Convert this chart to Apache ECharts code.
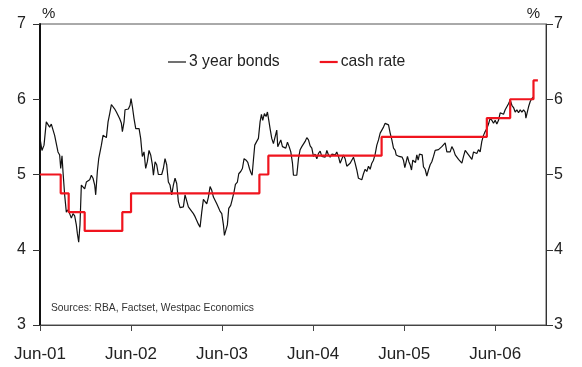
<!DOCTYPE html>
<html>
<head>
<meta charset="utf-8">
<script src="https://cdn.jsdelivr.net/npm/echarts@6/dist/echarts.min.js"></script>
<style>
  html, body { margin: 0; padding: 0; background: #fff; }
  #chart { width: 582px; height: 367px; }
</style>
</head>
<body>
<div id="chart"></div>
<script>
// x values are months elapsed since June 2001
var bondMonths = [
  0,0.26,0.53,0.83,1.06,1.27,1.49,1.71,1.93,2.15,2.37,2.59,2.73,2.90,3.03,3.25,3.47,3.69,3.91,4.13,
  4.35,4.57,4.79,4.92,5.10,5.27,5.45,5.67,5.89,6.11,6.33,6.55,6.77,6.99,7.21,7.34,7.56,7.74,7.91,8.09,
  8.31,8.53,8.75,8.97,9.19,9.41,9.63,9.85,10.07,10.29,10.51,10.73,10.86,11.08,
  11.21,11.43,11.65,11.87,12.00,12.18,12.40,12.62,12.84,13.06,13.27,13.49,13.71,13.93,14.15,14.37,14.59,14.81,14.95,
  15.17,15.38,15.60,15.82,16.04,16.26,16.48,16.70,16.92,17.14,17.36,17.58,17.80,18.02,18.24,18.46,18.68,18.90,
  19.12,19.34,19.56,19.78,20.00,20.22,20.44,20.66,20.88,21.10,21.32,21.54,21.76,21.98,22.20,
  22.42,22.64,22.86,23.08,23.30,23.52,23.74,23.96,24.18,24.31,24.53,24.70,24.88,25.14,25.32,25.58,25.76,26.02,26.20,
  26.46,26.68,26.90,27.17,27.39,27.61,27.78,27.96,28.13,28.31,28.57,28.79,29.01,29.19,29.36,29.58,29.80,29.98,30.16,30.33,
  30.55,30.77,30.99,31.21,31.34,31.52,31.74,31.96,32.18,32.40,32.62,32.84,33.06,33.28,33.41,
  33.63,33.85,34.07,34.29,34.51,34.73,34.95,35.17,35.39,35.61,35.83,36.05,36.27,36.49,36.71,36.93,37.15,37.37,37.59,37.81,
  38.03,38.25,38.47,38.69,38.91,39.12,39.34,39.56,39.78,40.00,40.22,40.44,40.66,40.88,41.10,41.32,41.54,41.76,41.98,42.20,
  42.42,42.64,42.86,43.08,43.30,43.52,43.74,43.96,44.18,44.40,44.62,
  44.84,45.06,45.28,45.50,45.72,45.94,46.16,46.38,46.60,46.82,46.95,47.12,47.34,47.56,47.74,47.91,48.09,48.27,48.44,48.62,
  48.79,48.97,49.14,49.32,49.50,49.67,49.85,50.02,50.20,50.38,50.55,50.77,50.99,51.21,51.43,51.65,51.87,52.09,52.31,52.53,
  52.75,52.97,53.19,53.41,53.63,53.85,54.07,54.29,54.51,54.73,54.95,55.17,55.39,55.61,55.83,
  56.05,56.27,56.49,56.71,56.93,57.15,57.36,57.58,57.80,58.02,58.24,58.46,58.68,58.90,59.12,59.34,59.56,59.78,60.00,60.22,
  60.44,60.66,60.88,61.10,61.32,61.54,61.76,61.98,62.20,62.42,62.64,62.86,63.08,63.30,63.52,63.74,63.96,64.05,64.27,64.40,
  64.62,64.84,65.06
];
var bondYields = [
  5.48,5.32,5.39,5.70,5.71,5.63,5.67,5.65,5.52,5.41,5.30,5.26,5.08,5.25,5.04,4.73,4.50,4.53,4.48,4.42,
  4.48,4.45,4.33,4.22,4.10,4.33,4.86,4.84,4.81,4.90,4.89,4.93,4.99,4.95,4.86,4.73,5.04,5.21,5.19,5.39,
  5.52,5.50,5.49,5.70,5.81,5.93,5.91,5.87,5.83,5.81,5.74,5.68,5.57,5.70,
  5.86,5.88,5.87,5.92,6.01,5.90,5.74,5.61,5.59,5.61,5.48,5.24,5.30,5.08,5.17,5.32,5.26,5.13,4.99,
  5.17,5.13,5.00,5.01,5.00,5.08,5.21,5.13,4.90,4.86,4.73,4.86,4.95,4.88,4.64,4.56,4.55,4.57,
  4.73,4.71,4.57,4.55,4.51,4.48,4.44,4.39,4.34,4.30,4.50,4.67,4.68,4.61,4.70,
  4.84,4.79,4.70,4.68,4.61,4.56,4.51,4.48,4.33,4.19,4.20,4.33,4.55,4.59,4.66,4.77,4.87,4.90,5.01,
  5.04,5.08,5.21,5.19,5.16,5.08,5.03,4.99,5.19,5.39,5.44,5.48,5.70,5.80,5.72,5.81,5.77,5.83,5.72,5.61,
  5.48,5.41,5.39,5.59,5.37,5.35,5.46,5.37,5.39,5.35,5.43,5.37,5.30,5.15,4.99,
  4.97,4.99,5.21,5.33,5.37,5.39,5.44,5.49,5.46,5.38,5.35,5.24,5.27,5.21,5.28,5.31,5.24,5.26,5.23,5.32,
  5.26,5.23,5.27,5.29,5.26,5.30,5.24,5.15,5.16,5.26,5.21,5.11,5.12,5.15,5.19,5.23,5.15,5.06,4.95,4.93,
  4.93,5.01,5.07,5.04,5.11,5.07,5.15,5.19,5.27,5.39,5.46,
  5.55,5.59,5.63,5.68,5.70,5.66,5.55,5.46,5.35,5.32,5.26,5.27,5.24,5.26,5.23,5.19,5.09,5.08,5.24,5.17,
  5.13,5.06,5.19,5.21,5.16,5.26,5.19,5.27,5.25,5.26,5.10,5.07,4.98,5.06,5.13,5.17,5.24,5.32,5.33,5.33,
  5.35,5.37,5.39,5.42,5.30,5.29,5.30,5.37,5.33,5.26,5.23,5.20,5.19,5.15,5.24,
  5.32,5.30,5.26,5.23,5.20,5.30,5.32,5.28,5.33,5.30,5.44,5.52,5.57,5.61,5.67,5.75,5.72,5.68,5.72,5.67,
  5.72,5.82,5.83,5.80,5.86,5.90,5.94,5.99,5.92,5.89,5.83,5.86,5.82,5.86,5.83,5.86,5.83,5.75,5.75,5.90,
  5.97,6.01,6.03
];

// cash rate: month of each change and the new target rate
var cashMonths = [0, 2.73, 3.78, 5.89, 10.85, 12.0, 28.92, 30.1, 45.03, 58.9, 61.98, 65.05, 65.63];
var cashRates  = [5.00, 4.75, 4.50, 4.25, 4.50, 4.75, 5.00, 5.25, 5.50, 5.75, 6.00, 6.25, 6.25];

var xTickMonths = [0, 12, 24, 36, 48, 60];
var xTickLabels = ['Jun-01', 'Jun-02', 'Jun-03', 'Jun-04', 'Jun-05', 'Jun-06'];
var seriesNames = ['3 year bonds', 'cash rate'];
var sourceNote = 'Sources: RBA, Factset, Westpac Economics';

var BOND_COLOR = '#111111';
var CASH_COLOR = '#f0141e';

function pairs(xs, ys) {
  return xs.map(function (x, i) { return [x, ys[i]]; });
}

var FONT = '"Liberation Sans", Arial, sans-serif';
var chart = echarts.init(document.getElementById('chart'), null, { renderer: 'canvas' });

chart.setOption({
  animation: false,
  backgroundColor: '#ffffff',
  textStyle: { fontFamily: FONT },
  title: {
    text: sourceNote,
    left: 51, top: 303, padding: 0,
    textStyle: { fontFamily: FONT, fontSize: 10.3, fontWeight: 'normal', color: '#333' }
  },
  legend: {
    left: 168, top: 54, padding: 0,
    itemGap: 40, itemWidth: 18, itemHeight: 12,
    symbolKeepAspect: true,
    textStyle: { fontFamily: FONT, fontSize: 15.7, color: '#222', padding: [0, 0, 0, -2] },
    data: [
      { name: seriesNames[0], icon: 'path://M0,0H18V1.2H0Z', itemStyle: { color: BOND_COLOR } },
      { name: seriesNames[1], icon: 'path://M0,0H18V2.2H0Z', itemStyle: { color: CASH_COLOR } }
    ]
  },
  grid: {
    left: 40, right: 36, top: 24, bottom: 42,
    show: true, borderColor: '#555', borderWidth: 1, backgroundColor: 'transparent'
  },
  xAxis: {
    type: 'value', min: 0, max: 66.7,
    axisLine: { show: true, lineStyle: { color: '#444', width: 1 } },
    axisTick: { show: true, length: 6, lineStyle: { color: '#444' }, customValues: xTickMonths },
    axisLabel: {
      customValues: xTickMonths, margin: 21,
      fontFamily: FONT, fontSize: 17, color: '#222',
      formatter: function (v) {
        var i = xTickMonths.indexOf(v);
        return i >= 0 ? xTickLabels[i] : '';
      }
    },
    splitLine: { show: false }
  },
  yAxis: [
    {
      type: 'value', min: 3, max: 7, interval: 1, position: 'left',
      name: '%', nameLocation: 'end', nameGap: 3,
      nameTextStyle: { fontFamily: FONT, fontSize: 15, color: '#222', align: 'left', padding: [0, 0, 0, 2] },
      axisLine: { show: true, lineStyle: { color: '#111', width: 2 } },
      axisTick: { show: true, length: 7, lineStyle: { color: '#333' } },
      axisLabel: { margin: 14, fontFamily: FONT, fontSize: 16, color: '#222' },
      splitLine: { show: false }
    },
    {
      type: 'value', min: 3, max: 7, interval: 1, position: 'right',
      name: '%', nameLocation: 'end', nameGap: 3,
      nameTextStyle: { fontFamily: FONT, fontSize: 15, color: '#222', align: 'right', padding: [0, 6, 0, 0] },
      axisLine: { show: true, lineStyle: { color: '#333', width: 1 } },
      axisTick: { show: true, length: 7, lineStyle: { color: '#333' } },
      axisLabel: { margin: 8, fontFamily: FONT, fontSize: 16, color: '#222' },
      splitLine: { show: false }
    }
  ],
  series: [
    {
      name: seriesNames[0], type: 'line', yAxisIndex: 0,
      symbol: 'none', smooth: false, z: 3,
      lineStyle: { color: BOND_COLOR, width: 1.2 },
      itemStyle: { color: BOND_COLOR },
      data: pairs(bondMonths, bondYields)
    },
    {
      name: seriesNames[1], type: 'line', yAxisIndex: 0,
      symbol: 'none', step: 'end', z: 4,
      lineStyle: { color: CASH_COLOR, width: 2.2 },
      itemStyle: { color: CASH_COLOR },
      data: pairs(cashMonths, cashRates)
    }
  ]
});
</script>
</body>
</html>
